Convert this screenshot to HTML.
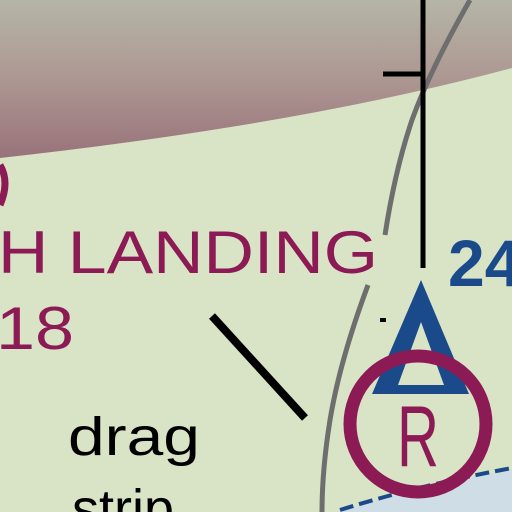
<!DOCTYPE html>
<html><head><meta charset="utf-8"><style>
html,body{margin:0;padding:0;background:#d9e3c6;width:512px;height:512px;overflow:hidden;}
svg{display:block;}
text{font-family:"Liberation Sans",sans-serif;}
</style></head><body>
<svg width="512" height="512" viewBox="0 0 512 512">
<defs>
<linearGradient id="band" x1="0" y1="0" x2="0" y2="1">
<stop offset="0" stop-color="#b5b5a7"/>
<stop offset="0.5" stop-color="#ad9792"/>
<stop offset="1" stop-color="#98737a"/>
</linearGradient>
</defs>
<rect width="512" height="512" fill="#d9e3c6"/>
<path d="M0 0 H512 V68 Q300 125 0 158 Z" fill="url(#band)"/>
<path d="M0 165 Q10 182 0 205" fill="none" stroke="#8b1a55" stroke-width="7"/>
<path d="M470 0 Q430 70 412 120 Q395 170 385 235" fill="none" stroke="#6e6e6e" stroke-width="5"/>
<path d="M368 285 Q340 360 330 420 Q322 470 322 512" fill="none" stroke="#6e6e6e" stroke-width="5"/>
<line x1="423" y1="0" x2="423" y2="268" stroke="#000" stroke-width="5"/>
<line x1="383" y1="74" x2="425" y2="74" stroke="#000" stroke-width="5"/>
<text x="-2" y="273" font-size="60" fill="#8b1a55" textLength="380" lengthAdjust="spacingAndGlyphs">H LANDING</text>
<text x="-4" y="349" font-size="60" fill="#8b1a55" textLength="78" lengthAdjust="spacingAndGlyphs">18</text>
<line x1="212" y1="316" x2="305" y2="418" stroke="#000" stroke-width="8"/>
<text x="68" y="455" font-size="54" fill="#000" textLength="132" lengthAdjust="spacingAndGlyphs">drag</text>
<text x="72" y="527" font-size="54" fill="#000">strip</text>
<path d="M340 512 Q420 485 512 470 V512 Z" fill="#cfdde6"/>
<path d="M340 510 Q420 485 512 468" fill="none" stroke="#1a4a8a" stroke-width="4" stroke-dasharray="14 6"/>
<path d="M421 280 L469 394 L372 394 Z M421 322 L398 385 L444 385 Z" fill="#1a4a8a" fill-rule="evenodd"/>
<text x="448" y="286" font-size="66" font-weight="bold" fill="#1a4a8a">24</text>
<rect x="380" y="318" width="6" height="4" fill="#000"/>
<circle cx="418" cy="424" r="68" fill="none" stroke="#8b1a55" stroke-width="13"/>
<text x="397" y="466" font-size="86" fill="#8b1a55" textLength="42" lengthAdjust="spacingAndGlyphs">R</text>
</svg>
</body></html>
